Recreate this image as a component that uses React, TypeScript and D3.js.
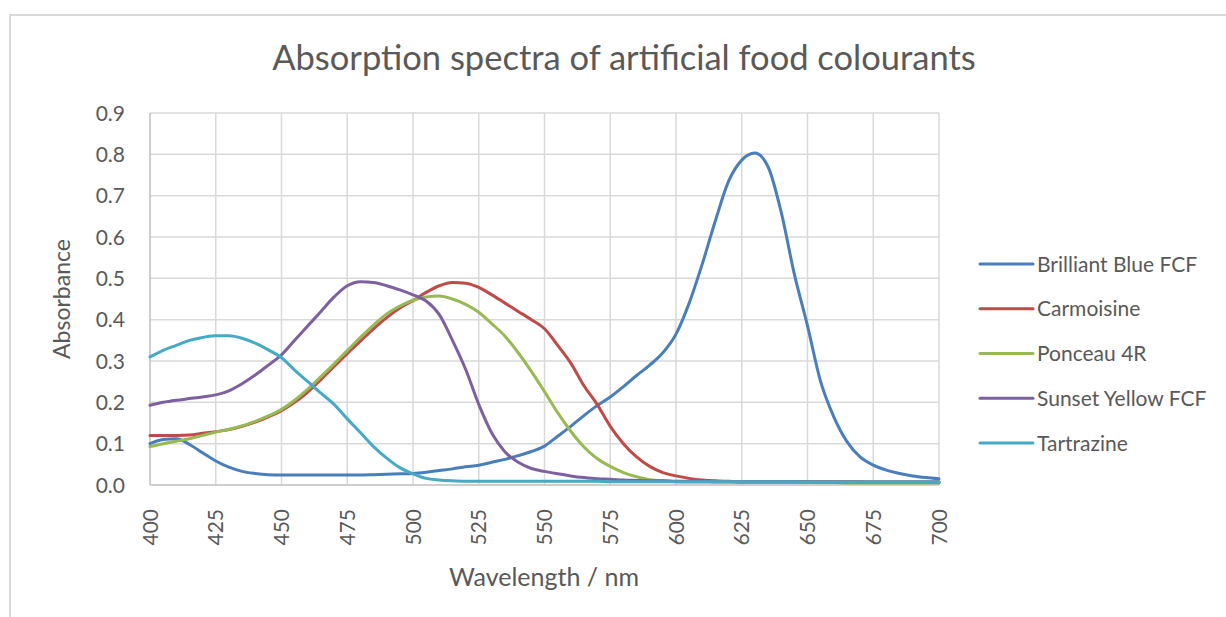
import React, { useEffect, useRef } from 'react';
import * as d3 from 'd3';

const wavelengths = [
  400, 405, 410, 415, 420, 425, 430, 435, 440, 445, 450, 455, 460, 465, 470, 475, 480, 485, 490, 495,
  500, 505, 510, 515, 520, 525, 530, 535, 540, 545, 550, 555, 560, 565, 570, 575, 580, 585, 590, 595,
  600, 605, 610, 615, 620, 625, 630, 635, 640, 645, 650, 655, 660, 665, 670, 675, 680, 685, 690, 695, 700,
];

const brilliantBlue = [
  0.100, 0.110, 0.112, 0.098, 0.078, 0.058, 0.043, 0.033, 0.028, 0.025, 0.024, 0.024, 0.024, 0.024, 0.024, 0.024, 0.024, 0.025, 0.026, 0.027,
  0.028, 0.031, 0.035, 0.039, 0.044, 0.048, 0.055, 0.062, 0.071, 0.081, 0.094, 0.118, 0.142, 0.168, 0.192, 0.213, 0.238, 0.265, 0.290, 0.320,
  0.365, 0.440, 0.535, 0.640, 0.735, 0.786, 0.803, 0.770, 0.660, 0.510, 0.385, 0.250, 0.165, 0.105, 0.068, 0.048, 0.036, 0.028, 0.022, 0.018, 0.015,
];

const carmoisine = [
  0.120, 0.120, 0.120, 0.121, 0.125, 0.129, 0.134, 0.142, 0.152, 0.165, 0.180, 0.200, 0.225, 0.255, 0.287, 0.318, 0.348, 0.378, 0.405, 0.428,
  0.446, 0.466, 0.482, 0.490, 0.488, 0.478, 0.460, 0.440, 0.420, 0.400, 0.378, 0.338, 0.295, 0.240, 0.195, 0.142, 0.100, 0.068, 0.045, 0.030,
  0.022, 0.016, 0.012, 0.010, 0.009, 0.008, 0.008, 0.008, 0.008, 0.008, 0.008, 0.008, 0.008, 0.008, 0.008, 0.007, 0.007, 0.007, 0.007, 0.007, 0.007,
];

const ponceau4R = [
  0.093, 0.100, 0.106, 0.112, 0.120, 0.128, 0.135, 0.143, 0.154, 0.167, 0.183, 0.205, 0.232, 0.262, 0.293, 0.325, 0.357, 0.387, 0.414, 0.433,
  0.447, 0.455, 0.457, 0.450, 0.437, 0.418, 0.390, 0.360, 0.320, 0.275, 0.226, 0.175, 0.130, 0.092, 0.064, 0.045, 0.030, 0.020, 0.013, 0.010,
  0.008, 0.007, 0.007, 0.007, 0.007, 0.006, 0.006, 0.006, 0.006, 0.006, 0.006, 0.006, 0.006, 0.005, 0.005, 0.005, 0.005, 0.005, 0.005, 0.005, 0.005,
];

const sunsetYellow = [
  0.193, 0.200, 0.205, 0.209, 0.213, 0.218, 0.228, 0.245, 0.266, 0.290, 0.315, 0.350, 0.385, 0.420, 0.455, 0.482, 0.492, 0.490, 0.482, 0.472,
  0.460, 0.445, 0.412, 0.350, 0.280, 0.195, 0.125, 0.080, 0.055, 0.040, 0.033, 0.027, 0.022, 0.018, 0.015, 0.014, 0.012, 0.011, 0.010, 0.010,
  0.009, 0.009, 0.009, 0.008, 0.008, 0.008, 0.008, 0.008, 0.008, 0.008, 0.008, 0.007, 0.007, 0.007, 0.007, 0.007, 0.007, 0.007, 0.007, 0.007, 0.007,
];

const tartrazine = [
  0.310, 0.326, 0.338, 0.350, 0.357, 0.361, 0.361, 0.355, 0.343, 0.327, 0.308, 0.278, 0.250, 0.222, 0.195, 0.160, 0.127, 0.093, 0.065, 0.042,
  0.027, 0.016, 0.012, 0.010, 0.009, 0.009, 0.009, 0.009, 0.009, 0.009, 0.009, 0.009, 0.009, 0.009, 0.009, 0.008, 0.008, 0.008, 0.008, 0.008,
  0.008, 0.008, 0.008, 0.008, 0.008, 0.008, 0.008, 0.008, 0.008, 0.008, 0.007, 0.007, 0.007, 0.007, 0.007, 0.007, 0.007, 0.007, 0.007, 0.007, 0.007,
];

const seriesNames = ['Brilliant Blue FCF', 'Carmoisine', 'Ponceau 4R', 'Sunset Yellow FCF', 'Tartrazine'];
const seriesValues = [brilliantBlue, carmoisine, ponceau4R, sunsetYellow, tartrazine];
const seriesColors = ['#4a7ebb', '#be4b48', '#98b954', '#7d60a0', '#46aac5'];

const xTicks = [400, 425, 450, 475, 500, 525, 550, 575, 600, 625, 650, 675, 700];
const yTicks = [0, 0.1, 0.2, 0.3, 0.4, 0.5, 0.6, 0.7, 0.8, 0.9];

const App: React.FC = () => {
  const svgRef = useRef<SVGSVGElement>(null);

  useEffect(() => {
    if (!svgRef.current) return;
    const svg = d3.select(svgRef.current);
    svg.selectAll('*').remove();

    const font = 'Lato, "Open Sans", sans-serif';
    const textColor = '#595959';
    const left = 150, right = 939, top = 113, bottom = 485;

    const x = d3.scaleLinear().domain([400, 700]).range([left, right]);
    const y = d3.scaleLinear().domain([0, 0.9]).range([bottom, top]);

    // chart frame
    svg.append('rect')
      .attr('x', 10).attr('y', 15)
      .attr('width', 1400).attr('height', 800)
      .attr('fill', '#fff')
      .attr('stroke', '#d9d9d9')
      .attr('stroke-width', 2);

    svg.append('text')
      .attr('x', 624).attr('y', 70)
      .attr('text-anchor', 'middle')
      .attr('fill', textColor)
      .style('font-family', font)
      .style('font-size', '34.5px')
      .text('Absorption spectra of artificial food colourants');

    // grid
    const g = svg.append('g');
    yTicks.forEach(t => {
      if (t === 0) return;
      g.append('line')
        .attr('x1', left).attr('x2', right)
        .attr('y1', y(t)).attr('y2', y(t))
        .attr('stroke', '#d9d9d9').attr('stroke-width', 1.5);
    });
    xTicks.forEach(t => {
      if (t === 400) return;
      g.append('line')
        .attr('x1', x(t)).attr('x2', x(t))
        .attr('y1', top).attr('y2', bottom)
        .attr('stroke', '#d9d9d9').attr('stroke-width', 1.5);
    });
    // axes
    g.append('line')
      .attr('x1', left).attr('x2', left).attr('y1', top).attr('y2', bottom)
      .attr('stroke', '#bfbfbf').attr('stroke-width', 1.5);
    g.append('line')
      .attr('x1', left).attr('x2', right).attr('y1', bottom).attr('y2', bottom)
      .attr('stroke', '#bfbfbf').attr('stroke-width', 1.5);

    yTicks.forEach(t => {
      svg.append('text')
        .attr('x', 125).attr('y', y(t))
        .attr('dy', '0.36em')
        .attr('text-anchor', 'end')
        .attr('fill', textColor)
        .style('font-family', font)
        .style('font-size', '21px')
        .text(t.toFixed(1));
    });

    xTicks.forEach(t => {
      svg.append('text')
        .attr('transform', `translate(${x(t)}, 509) rotate(-90)`)
        .attr('dy', '0.36em')
        .attr('text-anchor', 'end')
        .attr('fill', textColor)
        .style('font-family', font)
        .style('font-size', '21px')
        .text(String(t));
    });

    svg.append('text')
      .attr('x', 544).attr('y', 586)
      .attr('text-anchor', 'middle')
      .attr('fill', textColor)
      .style('font-family', font)
      .style('font-size', '25px')
      .text('Wavelength / nm');

    svg.append('text')
      .attr('transform', `translate(70, 299) rotate(-90)`)
      .attr('text-anchor', 'middle')
      .attr('fill', textColor)
      .style('font-family', font)
      .style('font-size', '23px')
      .text('Absorbance');

    // series
    const line = d3.line<number>()
      .x((_, i) => x(wavelengths[i]))
      .y(d => y(d))
      .curve(d3.curveMonotoneX);

    seriesValues.forEach((vals, i) => {
      svg.append('path')
        .datum(vals)
        .attr('d', line)
        .attr('fill', 'none')
        .attr('stroke', seriesColors[i])
        .attr('stroke-width', 3)
        .attr('stroke-linejoin', 'round')
        .attr('stroke-linecap', 'round');
    });

    // legend
    const legendY = d3.scalePoint<string>().domain(seriesNames).range([264, 443]);
    seriesNames.forEach((name, i) => {
      const ly = legendY(name) as number;
      svg.append('line')
        .attr('x1', 980).attr('x2', 1033)
        .attr('y1', ly).attr('y2', ly)
        .attr('stroke', seriesColors[i])
        .attr('stroke-width', 3)
        .attr('stroke-linecap', 'round');
      svg.append('text')
        .attr('x', 1037).attr('y', ly)
        .attr('dy', '0.36em')
        .attr('fill', textColor)
        .style('font-family', font)
        .style('font-size', '21px')
        .text(name);
    });
  }, []);

  return (
    <svg ref={svgRef} width={1226} height={617}
      style={{ position: 'absolute', left: 0, top: 0, background: '#fff' }} />
  );
};

export default App;
